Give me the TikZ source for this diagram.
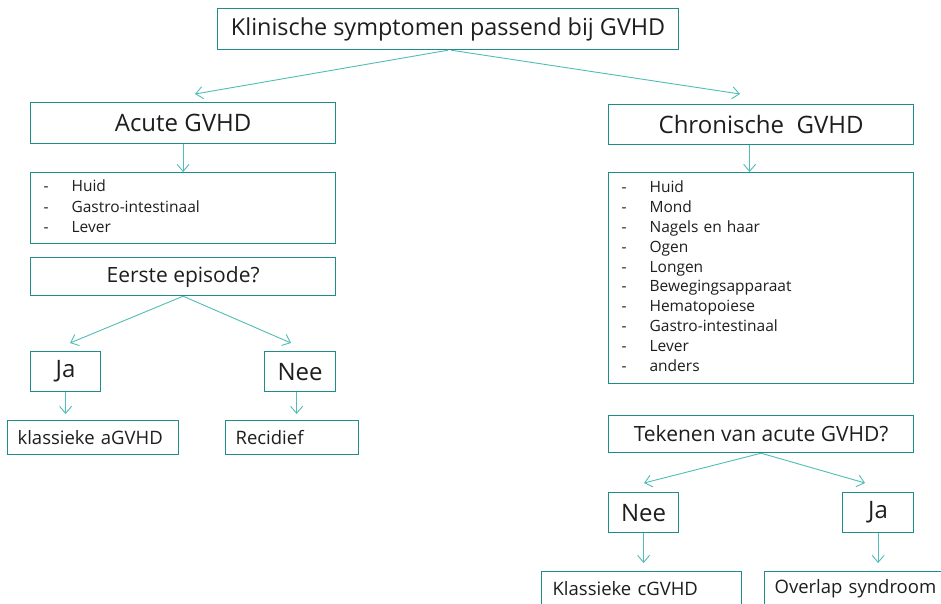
\documentclass[tikz,border=0pt]{standalone}
\usepackage{fontspec}
\setmainfont{Open Sans}
\usetikzlibrary{arrows.meta}
\definecolor{boxc}{RGB}{30,140,135}
\definecolor{arrc}{RGB}{80,190,182}
\definecolor{txt}{RGB}{30,30,30}
\begin{document}
\begin{tikzpicture}[x=1pt,y=-1pt,
  box/.style={draw=boxc,line width=1.2pt,text=txt,inner sep=0pt,anchor=north west},
  lbox/.style={box,align=left,inner xsep=#1},
  arr/.style={draw=arrc,line width=0.9pt,-{Straight Barb[length=7pt,width=12pt]}}]
\clip (0,0) rectangle (941,603);
\fill[white] (0,0) rectangle (941,603);

\node[box,minimum width=461pt,minimum height=41pt,font=\fontsize{23.4}{28}\selectfont] (top) at (217,8) {Klinische symptomen passend bij GVHD};

% left branch
\node[box,minimum width=305pt,minimum height=41pt,font=\fontsize{24}{28}\selectfont] (acute) at (30,102) {Acute GVHD};
\node[lbox=13pt,text width=279pt,minimum width=305pt,minimum height=71pt,font=\fontsize{15.5}{20.5}\selectfont] (alist) at (30,172)
  {\begin{tabular}{@{}p{28pt}@{}l@{}}-&Huid\\-&Gastro-intestinaal\\-&Lever\end{tabular}};
\node[box,minimum width=305pt,minimum height=38pt,font=\fontsize{21}{25}\selectfont] (eerste) at (30,257) {Eerste episode?};
\node[box,minimum width=70pt,minimum height=40pt,font=\fontsize{24}{28}\selectfont] (jaL) at (30,351) {Ja};
\node[box,minimum width=71pt,minimum height=40pt,font=\fontsize{24}{28}\selectfont] (neeL) at (264,351) {Nee};
\node[lbox=10pt,text width=151pt,minimum width=171pt,minimum height=34pt,font=\fontsize{18.5}{22}\selectfont] (kla) at (7,420) {klassieke aGVHD};
\node[lbox=10pt,text width=113pt,minimum width=133pt,minimum height=34pt,font=\fontsize{18.5}{22}\selectfont] (rec) at (225,420) {Recidief};

% right branch
\node[box,minimum width=305pt,minimum height=40pt,font=\fontsize{24}{28}\selectfont] (chron) at (608,104) {Chronische\ \ GVHD};
\node[lbox=13pt,text width=279pt,minimum width=305pt,minimum height=211pt,font=\fontsize{15.5}{19.8}\selectfont] (clist) at (608,172)
  {\begin{tabular}{@{}p{28pt}@{}l@{}}-&Huid\\-&Mond\\-&Nagels en haar\\-&Ogen\\-&Longen\\-&Bewegingsapparaat\\-&Hematopoiese\\-&Gastro-intestinaal\\-&Lever\\-&anders\end{tabular}};
\node[box,minimum width=305pt,minimum height=37pt,font=\fontsize{21}{26}\selectfont] (tek) at (608,415) {Tekenen van acute GVHD?};
\node[box,minimum width=70pt,minimum height=40pt,font=\fontsize{24}{28}\selectfont] (neeR) at (608,492) {Nee};
\node[box,minimum width=71pt,minimum height=40pt,font=\fontsize{24}{28}\selectfont] (jaR) at (842,492) {Ja};
\node[lbox=11pt,text width=178pt,minimum width=200pt,minimum height=34pt,font=\fontsize{18.5}{22}\selectfont] (klc) at (541,571) {Klassieke cGVHD};
\node[lbox=10pt,text width=180pt,minimum width=200pt,minimum height=34pt,font=\fontsize{18.5}{22}\selectfont] (ovl) at (764,571) {Overlap syndroom};

% arrow end points
\coordinate (tA) at (195,94);
\coordinate (tC) at (740,94);
\coordinate (eJ) at (70,343);
\coordinate (eN) at (291,343);
\coordinate (kN) at (644,483);
\coordinate (kJ) at (865,483);

\draw[arr] (top.south) -- (tA);
\draw[arr] ([xshift=3pt]top.south) -- (tC);
\draw[arr] (acute.south) -- (alist.north);
\draw[arr] ([xshift=-11.5pt]chron.south) -- ([xshift=-11.5pt]clist.north);
\draw[arr] (eerste.south) -- (eJ);
\draw[arr] (eerste.south) -- (eN);
\draw[arr,shorten >=6pt] (jaL.south) -- (jaL.south |- kla.north);
\draw[arr,shorten >=6pt] ([xshift=-3.5pt]neeL.south) -- ([xshift=-3.5pt]neeL.south |- rec.north);
\draw[arr] (tek.south) -- (kN);
\draw[arr] (tek.south) -- (kJ);
\draw[arr,shorten >=8pt] (neeR.south) -- (neeR.south |- klc.north);
\draw[arr,shorten >=8pt] (jaR.south) -- (jaR.south |- ovl.north);
\end{tikzpicture}
\end{document}
